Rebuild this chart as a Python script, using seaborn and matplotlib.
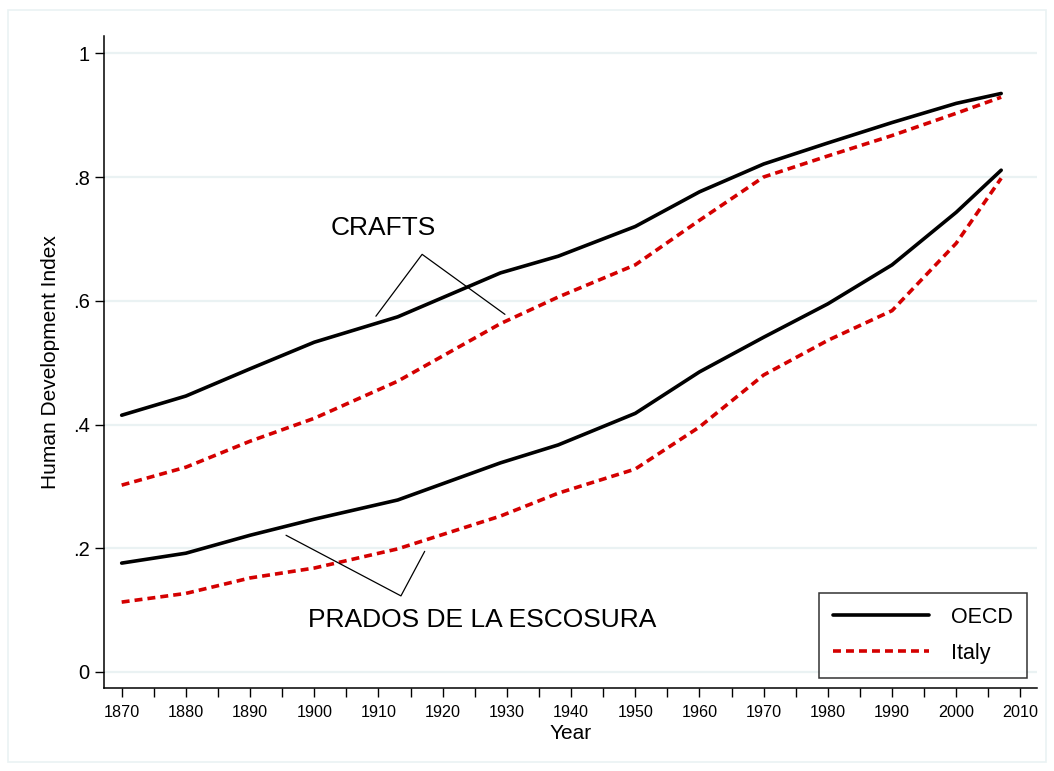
import numpy as np
import pandas as pd
import matplotlib
matplotlib.use("Agg")
import matplotlib.pyplot as plt
import seaborn as sns
from matplotlib.lines import Line2D
from matplotlib.patches import Rectangle

sns.set_style("white")
plt.rcParams["font.family"] = ["Liberation Sans", "DejaVu Sans"]
plt.rcParams.update({"text.color": "black", "axes.labelcolor": "black",
                     "xtick.color": "black", "ytick.color": "black"})

# ------------------------------------------------------------
# Data
# ------------------------------------------------------------
years = [1870, 1880, 1890, 1900, 1913, 1929, 1938, 1950, 1960, 1970, 1980, 1990, 2000, 2007]

oecd_crafts = [0.415, 0.446, 0.490, 0.533, 0.574, 0.645, 0.672, 0.720, 0.776, 0.821, 0.855, 0.888, 0.919, 0.935]
italy_crafts = [0.302, 0.331, 0.373, 0.410, 0.470, 0.563, 0.606, 0.658, 0.730, 0.800, 0.834, 0.867, 0.903, 0.929]
oecd_prados = [0.176, 0.192, 0.221, 0.247, 0.278, 0.338, 0.367, 0.418, 0.485, 0.541, 0.595, 0.658, 0.743, 0.811]
italy_prados = [0.113, 0.127, 0.152, 0.168, 0.199, 0.252, 0.289, 0.328, 0.396, 0.480, 0.536, 0.584, 0.693, 0.798]

y_ticks = [0, 0.2, 0.4, 0.6, 0.8, 1.0]
y_tick_labels = ["0", ".2", ".4", ".6", ".8", "1"]
x_ticks = list(range(1870, 2011, 10))

series = {
    ("OECD", "Crafts"): oecd_crafts,
    ("Italy", "Crafts"): italy_crafts,
    ("OECD", "Prados"): oecd_prados,
    ("Italy", "Prados"): italy_prados,
}
df = pd.concat(
    [pd.DataFrame({"Year": years, "HDI": vals, "Country": c, "Source": s})
     for (c, s), vals in series.items()],
    ignore_index=True,
)

styles = {
    "OECD": dict(color="black", linestyle="-"),
    "Italy": dict(color="#d40000", linestyle=(0, (2.2, 1.4))),
}

# ------------------------------------------------------------
# Plot
# ------------------------------------------------------------
fig = plt.figure(figsize=(10.54, 7.71), dpi=100)
ax = fig.add_axes([0.099, 0.1077, 0.885, 0.8453])

for (country, source), sub in df.groupby(["Country", "Source"]):
    sns.lineplot(data=sub, x="Year", y="HDI", ax=ax, lw=2.6,
                 color=styles[country]["color"], linestyle=styles[country]["linestyle"],
                 legend=False)

ax.set_xlim(1867.3, 2012.6)
ax.set_ylim(-0.0258, 1.0275)

ax.set_yticks(y_ticks)
ax.set_yticklabels(y_tick_labels)
ax.set_xticks(x_ticks)
ax.set_xticks(list(range(1875, 2011, 10)), minor=True)
ax.tick_params(axis="both", which="both", direction="out", length=6.5, width=1,
               color="black", bottom=True, left=True)
ax.tick_params(axis="x", labelsize=11.6, pad=6)
ax.tick_params(axis="y", labelsize=14.5, pad=4)

ax.grid(axis="y", color="#eaf2f3", lw=1.6)
ax.set_axisbelow(True)
sns.despine(ax=ax)
for sp in ["left", "bottom"]:
    ax.spines[sp].set_color("black")
    ax.spines[sp].set_linewidth(1.1)

ax.set_xlabel("Year", fontsize=15, labelpad=3)
ax.set_ylabel("Human Development Index", fontsize=15, labelpad=9)

# annotations
ax.text(1910.7, 0.717, "CRAFTS", fontsize=19, ha="center", va="center")
ax.plot([1909.6, 1916.8, 1929.7], [0.575, 0.675, 0.578], color="black", lw=0.9)
ax.text(1926.2, 0.084, "PRADOS DE LA ESCOSURA", fontsize=19, ha="center", va="center")
ax.plot([1895.6, 1913.5, 1917.2], [0.221, 0.123, 0.195], color="black", lw=0.9)

handles = [
    Line2D([], [], lw=2.6, **styles["OECD"]),
    Line2D([], [], lw=2.6, **styles["Italy"]),
]
leg = ax.legend(handles, ["OECD", "Italy"], loc="lower right",
                bbox_to_anchor=(0.989, 0.0153), borderaxespad=0,
                fontsize=15.5, frameon=True, fancybox=False, edgecolor="black",
                handlelength=4.5, handletextpad=1.0, borderpad=0.65,
                labelspacing=0.7)
leg.get_frame().set_linewidth(1.1)

# light outer frame
fig.patches.append(Rectangle((8 / 1054, 1 - 762 / 771), 1038 / 1054, 752 / 771,
                             transform=fig.transFigure, fill=False,
                             edgecolor="#eaf2f3", lw=1.2, zorder=0))

plt.savefig("out.png", dpi=100)
plt.close()
